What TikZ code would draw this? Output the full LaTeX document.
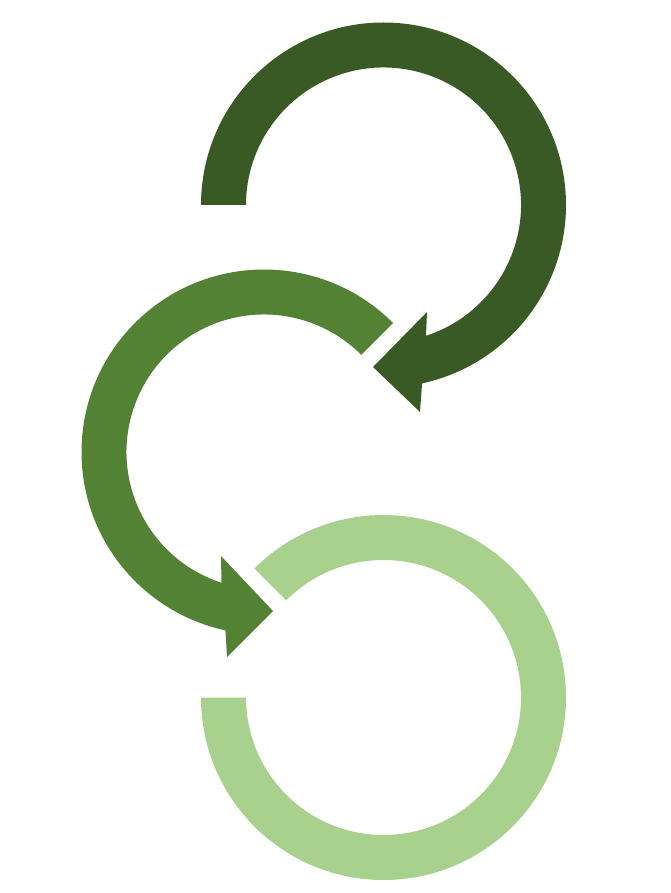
\documentclass[tikz,border=0pt]{standalone}
\usetikzlibrary{calc}
\definecolor{gdark}{HTML}{3A5A25}
\definecolor{gmid}{HTML}{548235}
\definecolor{glight}{HTML}{A9D18E}
\begin{document}
\begin{tikzpicture}[x=1pt,y=1pt,yscale=-1]
\useasboundingbox (0,0) rectangle (671,893);
\coordinate (C1) at (383.5,205);
\coordinate (C2) at (264,452);
\coordinate (C3) at (383.5,697.5);
% top arrow (dark)
\fill[gdark] (C1) ++(180:182.5) arc[start angle=180,end angle=437.8,radius=182.5pt]
  -- (420,412) -- (373,367) -- (427,312)
  -- ([shift={(72:137.5)}]C1) arc[start angle=432,end angle=180,radius=137.5pt] -- cycle;
% middle arrow
\fill[gmid] (C2) ++(315:182.5) arc[start angle=315,end angle=102.2,radius=182.5pt]
  -- (227,657) -- (273,611) -- (221,556)
  -- ([shift={(108:137.5)}]C2) arc[start angle=108,end angle=315,radius=137.5pt] -- cycle;
% bottom ring (light)
\fill[glight] (C3) ++(180:182.5) arc[start angle=180,end angle=-135,radius=182.5pt]
  -- ([shift={(-135:137.5)}]C3) arc[start angle=-135,end angle=180,radius=137.5pt] -- cycle;
\end{tikzpicture}
\end{document}
